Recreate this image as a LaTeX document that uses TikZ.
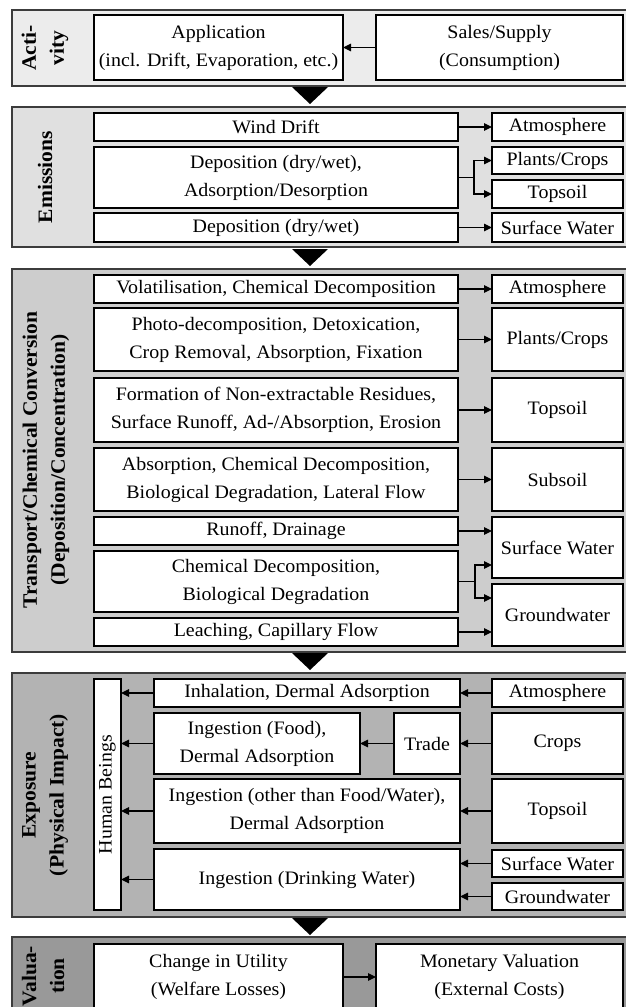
\documentclass[tikz,border=0pt]{standalone}
\usepackage{fontspec}
\setmainfont{Liberation Serif}[FakeStretch=1.05]
\usepackage{xcolor}
\usetikzlibrary{arrows.meta}
\definecolor{colAct}{RGB}{236,236,236}
\definecolor{colEmi}{RGB}{224,224,224}
\definecolor{colTra}{RGB}{205,205,205}
\definecolor{colExp}{RGB}{179,179,179}
\definecolor{colVal}{RGB}{153,153,153}
\definecolor{colBord}{RGB}{60,60,60}

\begin{document}
\begin{tikzpicture}[x=1pt, y=-1pt, >={Triangle[length=8pt, width=7.5pt]},
    box/.style={draw, line width=1.1pt, fill=white, inner sep=0pt, outer sep=0pt,
                align=center, font=\fontsize{19}{28}\selectfont},
    panel/.style={draw=colBord, line width=1.4pt},
    lbl/.style={rotate=90, align=center, font=\fontsize{20.5}{28}\selectfont\bfseries},
    fl/.style={->, line width=1.1pt}]

\useasboundingbox (0,0) rectangle (626,1007);

\def\xl{276}   % centre colonne gauche
\def\wl{364}
\def\xr{557.5} % centre colonne droite
\def\wr{131}

% Panneaux
\draw[panel, fill=colAct] (12,10)  rectangle (630,86);
\draw[panel, fill=colEmi] (12,107) rectangle (630,247);
\draw[panel, fill=colTra] (12,269) rectangle (630,652);
\draw[panel, fill=colExp] (12,673) rectangle (630,917);
\draw[panel, fill=colVal] (12,937) rectangle (630,1020);

% Fleches entre panneaux
\foreach \ya in {87,249,653,918} {
    \fill (292,\ya) -- (328,\ya) -- (310,\ya+17) -- cycle;
}

% Activity
\node[lbl] (lAct) at (45,48) {Acti-\\vity};
\node[box, minimum width=249, minimum height=65] (app) at (218.5,47.5)
    {Application\\(incl. Drift, Evaporation, etc.)};
\node[box, minimum width=247, minimum height=65] (sales) at (499.5,47.5)
    {Sales/Supply\\(Consumption)};
\draw[fl] (sales) -- (app);

% Emissions
\node[lbl] (lEmi) at (45,177) {Emissions};
\node[box, minimum width=\wl, minimum height=28] (wind) at (\xl,127) {Wind Drift};
\node[box, minimum width=\wr, minimum height=28] (atmA) at (\xr,127) {Atmosphere};
\node[box, minimum width=\wl, minimum height=61] (depA) at (\xl,177.5)
    {Deposition (dry/wet),\\Adsorption/Desorption};
\node[box, minimum width=\wr, minimum height=27] (plaA) at (\xr,160.5) {Plants/Crops};
\node[box, minimum width=\wr, minimum height=28] (topA) at (\xr,194) {Topsoil};
\node[box, minimum width=\wl, minimum height=29] (depB) at (\xl,227.5) {Deposition (dry/wet)};
\node[box, minimum width=\wr, minimum height=29] (swA) at (\xr,227.5) {Surface Water};
\coordinate (brA) at (474,177.5);
\draw[fl] (wind) -- (atmA);
\draw[line width=1.1pt] (depA.east) -- (brA);
\draw[fl] (brA) |- (plaA.west);
\draw[fl] (brA) |- (topA.west);
\draw[fl] (depB) -- (swA);

% Transport/Chemical Conversion
\node[lbl] (lTra) at (46,460)
    {Transport/Chemical Conversion\\(Deposition/Concentration)};
\node[box, minimum width=\wl, minimum height=28] (vol) at (\xl,289)
    {Volatilisation, Chemical Decomposition};
\node[box, minimum width=\wr, minimum height=28] (atmB) at (\xr,289) {Atmosphere};
\node[box, minimum width=\wl, minimum height=63] (pho) at (\xl,339.5)
    {Photo-decomposition, Detoxication,\\Crop Removal, Absorption, Fixation};
\node[box, minimum width=\wr, minimum height=63] (plaB) at (\xr,339.5) {Plants/Crops};
\node[box, minimum width=\wl, minimum height=64] (form) at (\xl,410)
    {Formation of Non-extractable Residues,\\Surface Runoff, Ad-/Absorption, Erosion};
\node[box, minimum width=\wr, minimum height=64] (topB) at (\xr,410) {Topsoil};
\node[box, minimum width=\wl, minimum height=63] (abso) at (\xl,479.5)
    {Absorption, Chemical Decomposition,\\Biological Degradation, Lateral Flow};
\node[box, minimum width=\wr, minimum height=63] (sub) at (\xr,479.5) {Subsoil};
\node[box, minimum width=\wl, minimum height=28] (run) at (\xl,531) {Runoff, Drainage};
\node[box, minimum width=\wl, minimum height=61] (chem) at (\xl,581.5)
    {Chemical Decomposition,\\Biological Degradation};
\node[box, minimum width=\wl, minimum height=28] (leach) at (\xl,632)
    {Leaching, Capillary Flow};
\node[box, minimum width=\wr, minimum height=61] (swB) at (\xr,547.5) {Surface Water};
\node[box, minimum width=\wr, minimum height=62] (gwB) at (\xr,615) {Groundwater};
\coordinate (brB) at (475,581.5);
\draw[fl] (vol) -- (atmB);
\draw[fl] (pho) -- (plaB);
\draw[fl] (form) -- (topB);
\draw[fl] (abso) -- (sub);
\draw[fl] (run.east) -- (run.east -| swB.west);
\draw[line width=1.1pt] (chem.east) -- (brB);
\draw[fl] (brB) |- ([yshift=-17.5pt]swB.west);
\draw[fl] (brB) |- ([yshift=17pt]gwB.west);
\draw[fl] (leach.east) -- (leach.east -| gwB.west);

% Exposure
\node[lbl] (lExp) at (45,795) {Exposure\\(Physical Impact)};
\node[box, rotate=90, minimum width=231, minimum height=27] (human) at (107.5,794.5)
    {Human Beings};
\node[box, minimum width=306, minimum height=28] (inh) at (307,693)
    {Inhalation, Dermal Adsorption};
\node[box, minimum width=\wr, minimum height=28] (atmC) at (\xr,693) {Atmosphere};
\node[box, minimum width=206, minimum height=61] (food) at (257,743.5)
    {Ingestion (Food),\\Dermal Adsorption};
\node[box, minimum width=66, minimum height=61] (trade) at (427,743.5) {Trade};
\node[box, minimum width=\wr, minimum height=61] (crops) at (\xr,743.5) {Crops};
\node[box, minimum width=306, minimum height=64] (other) at (307,811)
    {Ingestion (other than Food/Water),\\Dermal Adsorption};
\node[box, minimum width=\wr, minimum height=64] (topC) at (\xr,811) {Topsoil};
\node[box, minimum width=306, minimum height=61] (drink) at (307,879.5)
    {Ingestion (Drinking Water)};
\node[box, minimum width=\wr, minimum height=27] (swC) at (\xr,863.5) {Surface Water};
\node[box, minimum width=\wr, minimum height=27] (gwC) at (\xr,896.5) {Groundwater};
\draw[fl] (atmC) -- (inh);
\draw[fl] (crops) -- (trade);
\draw[fl] (trade) -- (food);
\draw[fl] (topC) -- (other);
\draw[fl] (swC.west) -- (swC.west -| drink.east);
\draw[fl] (gwC.west) -- (gwC.west -| drink.east);
\foreach \src in {inh,food,other,drink} {
    \draw[fl] (\src.west) -- (\src.west -| human.south);
}

% Valuation
\node[lbl] (lVal) at (43,976) {Valua-\\tion};
\node[box, minimum width=249, minimum height=66] (util) at (218.5,977)
    {Change in Utility\\(Welfare Losses)};
\node[box, minimum width=247, minimum height=66] (money) at (499.5,977)
    {Monetary Valuation\\(External Costs)};
\draw[fl] (util) -- (money);

\end{tikzpicture}
\end{document}
